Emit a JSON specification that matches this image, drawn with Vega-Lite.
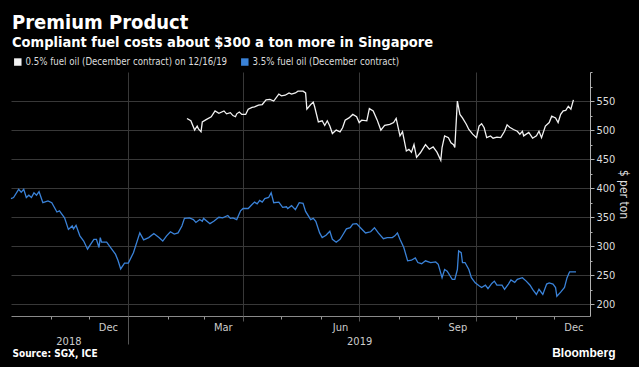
{
  "$schema": "https://vega.github.io/schema/vega-lite/v6.json",
  "width": 579,
  "height": 244,
  "autosize": {"type": "none"},
  "padding": {"left": 11, "top": 72, "right": 49, "bottom": 51},
  "background": "#000000",
  "title": {
    "text": "Premium Product",
    "subtitle": "Compliant fuel costs about $300 a ton more in Singapore",
    "anchor": "start",
    "frame": "group",
    "offset": 8,
    "dx": 1,
    "color": "#ffffff",
    "subtitleColor": "#ffffff",
    "font": "'DejaVu Sans Condensed', 'DejaVu Sans'",
    "subtitleFont": "'DejaVu Sans Condensed', 'DejaVu Sans'",
    "fontSize": 20,
    "subtitleFontSize": 14.5,
    "fontWeight": "bold",
    "subtitleFontWeight": "bold",
    "subtitlePadding": 3
  },
  "data": {"values": [
    {"d":"2018-10-01","s":"3.5%","p":382},{"d":"2018-10-03","s":"3.5%","p":384},{"d":"2018-10-07","s":"3.5%","p":398},{"d":"2018-10-09","s":"3.5%","p":393},{"d":"2018-10-11","s":"3.5%","p":398},{"d":"2018-10-13","s":"3.5%","p":384},{"d":"2018-10-15","s":"3.5%","p":388},{"d":"2018-10-17","s":"3.5%","p":384},{"d":"2018-10-19","s":"3.5%","p":392},{"d":"2018-10-21","s":"3.5%","p":388},{"d":"2018-10-23","s":"3.5%","p":394},{"d":"2018-10-26","s":"3.5%","p":375},{"d":"2018-10-30","s":"3.5%","p":378},{"d":"2018-11-02","s":"3.5%","p":375},{"d":"2018-11-06","s":"3.5%","p":359},{"d":"2018-11-08","s":"3.5%","p":361},{"d":"2018-11-10","s":"3.5%","p":355},{"d":"2018-11-12","s":"3.5%","p":349},{"d":"2018-11-15","s":"3.5%","p":329},{"d":"2018-11-18","s":"3.5%","p":335},{"d":"2018-11-19","s":"3.5%","p":330},{"d":"2018-11-21","s":"3.5%","p":336},{"d":"2018-11-24","s":"3.5%","p":318},{"d":"2018-11-27","s":"3.5%","p":309},{"d":"2018-11-30","s":"3.5%","p":295},{"d":"2018-12-02","s":"3.5%","p":302},{"d":"2018-12-05","s":"3.5%","p":312},{"d":"2018-12-07","s":"3.5%","p":312},{"d":"2018-12-09","s":"3.5%","p":298},{"d":"2018-12-10","s":"3.5%","p":315},{"d":"2018-12-11","s":"3.5%","p":307},{"d":"2018-12-15","s":"3.5%","p":307},{"d":"2018-12-19","s":"3.5%","p":295},{"d":"2018-12-22","s":"3.5%","p":286},{"d":"2018-12-24","s":"3.5%","p":275},{"d":"2018-12-26","s":"3.5%","p":261},{"d":"2018-12-29","s":"3.5%","p":271},{"d":"2019-01-01","s":"3.5%","p":271},{"d":"2019-01-05","s":"3.5%","p":289},{"d":"2019-01-10","s":"3.5%","p":323},{"d":"2019-01-13","s":"3.5%","p":311},{"d":"2019-01-17","s":"3.5%","p":315},{"d":"2019-01-21","s":"3.5%","p":322},{"d":"2019-01-25","s":"3.5%","p":315},{"d":"2019-01-28","s":"3.5%","p":309},{"d":"2019-01-31","s":"3.5%","p":318},{"d":"2019-02-03","s":"3.5%","p":325},{"d":"2019-02-06","s":"3.5%","p":321},{"d":"2019-02-09","s":"3.5%","p":323},{"d":"2019-02-12","s":"3.5%","p":335},{"d":"2019-02-14","s":"3.5%","p":348},{"d":"2019-02-18","s":"3.5%","p":349},{"d":"2019-02-21","s":"3.5%","p":346},{"d":"2019-02-23","s":"3.5%","p":341},{"d":"2019-02-26","s":"3.5%","p":346},{"d":"2019-02-28","s":"3.5%","p":343},{"d":"2019-03-01","s":"3.5%","p":348},{"d":"2019-03-06","s":"3.5%","p":339},{"d":"2019-03-09","s":"3.5%","p":343},{"d":"2019-03-13","s":"3.5%","p":350},{"d":"2019-03-16","s":"3.5%","p":349},{"d":"2019-03-20","s":"3.5%","p":353},{"d":"2019-03-22","s":"3.5%","p":348},{"d":"2019-03-24","s":"3.5%","p":349},{"d":"2019-03-27","s":"3.5%","p":346},{"d":"2019-03-30","s":"3.5%","p":361},{"d":"2019-04-01","s":"3.5%","p":365},{"d":"2019-04-05","s":"3.5%","p":365},{"d":"2019-04-08","s":"3.5%","p":372},{"d":"2019-04-10","s":"3.5%","p":376},{"d":"2019-04-12","s":"3.5%","p":373},{"d":"2019-04-14","s":"3.5%","p":379},{"d":"2019-04-16","s":"3.5%","p":376},{"d":"2019-04-18","s":"3.5%","p":382},{"d":"2019-04-21","s":"3.5%","p":384},{"d":"2019-04-23","s":"3.5%","p":392},{"d":"2019-04-25","s":"3.5%","p":375},{"d":"2019-04-29","s":"3.5%","p":376},{"d":"2019-05-02","s":"3.5%","p":367},{"d":"2019-05-05","s":"3.5%","p":368},{"d":"2019-05-06","s":"3.5%","p":365},{"d":"2019-05-09","s":"3.5%","p":370},{"d":"2019-05-12","s":"3.5%","p":363},{"d":"2019-05-15","s":"3.5%","p":375},{"d":"2019-05-18","s":"3.5%","p":374},{"d":"2019-05-20","s":"3.5%","p":360},{"d":"2019-05-24","s":"3.5%","p":346},{"d":"2019-05-26","s":"3.5%","p":348},{"d":"2019-05-28","s":"3.5%","p":343},{"d":"2019-05-31","s":"3.5%","p":323},{"d":"2019-06-02","s":"3.5%","p":315},{"d":"2019-06-05","s":"3.5%","p":319},{"d":"2019-06-08","s":"3.5%","p":326},{"d":"2019-06-10","s":"3.5%","p":312},{"d":"2019-06-13","s":"3.5%","p":307},{"d":"2019-06-16","s":"3.5%","p":312},{"d":"2019-06-18","s":"3.5%","p":319},{"d":"2019-06-21","s":"3.5%","p":330},{"d":"2019-06-24","s":"3.5%","p":332},{"d":"2019-06-26","s":"3.5%","p":338},{"d":"2019-06-29","s":"3.5%","p":339},{"d":"2019-07-02","s":"3.5%","p":332},{"d":"2019-07-06","s":"3.5%","p":323},{"d":"2019-07-10","s":"3.5%","p":325},{"d":"2019-07-13","s":"3.5%","p":332},{"d":"2019-07-16","s":"3.5%","p":323},{"d":"2019-07-20","s":"3.5%","p":313},{"d":"2019-07-23","s":"3.5%","p":315},{"d":"2019-07-27","s":"3.5%","p":315},{"d":"2019-07-29","s":"3.5%","p":318},{"d":"2019-07-31","s":"3.5%","p":323},{"d":"2019-08-02","s":"3.5%","p":312},{"d":"2019-08-05","s":"3.5%","p":298},{"d":"2019-08-08","s":"3.5%","p":275},{"d":"2019-08-11","s":"3.5%","p":276},{"d":"2019-08-14","s":"3.5%","p":280},{"d":"2019-08-16","s":"3.5%","p":272},{"d":"2019-08-19","s":"3.5%","p":270},{"d":"2019-08-22","s":"3.5%","p":275},{"d":"2019-08-26","s":"3.5%","p":272},{"d":"2019-08-30","s":"3.5%","p":273},{"d":"2019-09-01","s":"3.5%","p":269},{"d":"2019-09-04","s":"3.5%","p":246},{"d":"2019-09-06","s":"3.5%","p":260},{"d":"2019-09-08","s":"3.5%","p":257},{"d":"2019-09-12","s":"3.5%","p":243},{"d":"2019-09-14","s":"3.5%","p":243},{"d":"2019-09-16","s":"3.5%","p":260},{"d":"2019-09-17","s":"3.5%","p":292},{"d":"2019-09-19","s":"3.5%","p":289},{"d":"2019-09-20","s":"3.5%","p":272},{"d":"2019-09-22","s":"3.5%","p":272},{"d":"2019-09-25","s":"3.5%","p":260},{"d":"2019-09-27","s":"3.5%","p":246},{"d":"2019-09-30","s":"3.5%","p":237},{"d":"2019-10-03","s":"3.5%","p":232},{"d":"2019-10-05","s":"3.5%","p":229},{"d":"2019-10-08","s":"3.5%","p":233},{"d":"2019-10-10","s":"3.5%","p":227},{"d":"2019-10-13","s":"3.5%","p":236},{"d":"2019-10-15","s":"3.5%","p":240},{"d":"2019-10-17","s":"3.5%","p":233},{"d":"2019-10-21","s":"3.5%","p":233},{"d":"2019-10-23","s":"3.5%","p":226},{"d":"2019-10-26","s":"3.5%","p":235},{"d":"2019-10-28","s":"3.5%","p":242},{"d":"2019-10-31","s":"3.5%","p":238},{"d":"2019-11-02","s":"3.5%","p":243},{"d":"2019-11-06","s":"3.5%","p":246},{"d":"2019-11-09","s":"3.5%","p":240},{"d":"2019-11-12","s":"3.5%","p":233},{"d":"2019-11-14","s":"3.5%","p":226},{"d":"2019-11-17","s":"3.5%","p":217},{"d":"2019-11-19","s":"3.5%","p":226},{"d":"2019-11-22","s":"3.5%","p":217},{"d":"2019-11-25","s":"3.5%","p":235},{"d":"2019-11-27","s":"3.5%","p":237},{"d":"2019-11-30","s":"3.5%","p":235},{"d":"2019-12-02","s":"3.5%","p":229},{"d":"2019-12-03","s":"3.5%","p":214},{"d":"2019-12-06","s":"3.5%","p":221},{"d":"2019-12-09","s":"3.5%","p":229},{"d":"2019-12-11","s":"3.5%","p":246},{"d":"2019-12-13","s":"3.5%","p":256},{"d":"2019-12-18","s":"3.5%","p":256},
    {"d":"2019-02-16","s":"0.5%","p":520},{"d":"2019-02-19","s":"0.5%","p":516},{"d":"2019-02-22","s":"0.5%","p":500},{"d":"2019-02-24","s":"0.5%","p":507},{"d":"2019-02-25","s":"0.5%","p":502},{"d":"2019-02-27","s":"0.5%","p":497},{"d":"2019-02-28","s":"0.5%","p":514},{"d":"2019-03-03","s":"0.5%","p":518},{"d":"2019-03-07","s":"0.5%","p":523},{"d":"2019-03-10","s":"0.5%","p":533},{"d":"2019-03-13","s":"0.5%","p":529},{"d":"2019-03-17","s":"0.5%","p":533},{"d":"2019-03-19","s":"0.5%","p":528},{"d":"2019-03-22","s":"0.5%","p":530},{"d":"2019-03-24","s":"0.5%","p":525},{"d":"2019-03-26","s":"0.5%","p":523},{"d":"2019-03-27","s":"0.5%","p":528},{"d":"2019-03-29","s":"0.5%","p":531},{"d":"2019-03-31","s":"0.5%","p":527},{"d":"2019-04-03","s":"0.5%","p":527},{"d":"2019-04-05","s":"0.5%","p":536},{"d":"2019-04-08","s":"0.5%","p":539},{"d":"2019-04-10","s":"0.5%","p":540},{"d":"2019-04-13","s":"0.5%","p":543},{"d":"2019-04-16","s":"0.5%","p":544},{"d":"2019-04-19","s":"0.5%","p":552},{"d":"2019-04-22","s":"0.5%","p":553},{"d":"2019-04-25","s":"0.5%","p":550},{"d":"2019-04-29","s":"0.5%","p":562},{"d":"2019-05-01","s":"0.5%","p":559},{"d":"2019-05-04","s":"0.5%","p":560},{"d":"2019-05-07","s":"0.5%","p":564},{"d":"2019-05-09","s":"0.5%","p":562},{"d":"2019-05-12","s":"0.5%","p":564},{"d":"2019-05-14","s":"0.5%","p":567},{"d":"2019-05-18","s":"0.5%","p":567},{"d":"2019-05-20","s":"0.5%","p":564},{"d":"2019-05-21","s":"0.5%","p":536},{"d":"2019-05-24","s":"0.5%","p":544},{"d":"2019-05-26","s":"0.5%","p":548},{"d":"2019-05-27","s":"0.5%","p":541},{"d":"2019-05-30","s":"0.5%","p":514},{"d":"2019-06-02","s":"0.5%","p":516},{"d":"2019-06-04","s":"0.5%","p":508},{"d":"2019-06-06","s":"0.5%","p":516},{"d":"2019-06-08","s":"0.5%","p":507},{"d":"2019-06-10","s":"0.5%","p":494},{"d":"2019-06-13","s":"0.5%","p":500},{"d":"2019-06-16","s":"0.5%","p":497},{"d":"2019-06-18","s":"0.5%","p":504},{"d":"2019-06-20","s":"0.5%","p":517},{"d":"2019-06-23","s":"0.5%","p":521},{"d":"2019-06-26","s":"0.5%","p":527},{"d":"2019-06-29","s":"0.5%","p":523},{"d":"2019-07-01","s":"0.5%","p":513},{"d":"2019-07-03","s":"0.5%","p":517},{"d":"2019-07-07","s":"0.5%","p":516},{"d":"2019-07-09","s":"0.5%","p":537},{"d":"2019-07-12","s":"0.5%","p":533},{"d":"2019-07-15","s":"0.5%","p":518},{"d":"2019-07-18","s":"0.5%","p":500},{"d":"2019-07-21","s":"0.5%","p":508},{"d":"2019-07-25","s":"0.5%","p":510},{"d":"2019-07-28","s":"0.5%","p":513},{"d":"2019-07-30","s":"0.5%","p":520},{"d":"2019-08-02","s":"0.5%","p":490},{"d":"2019-08-04","s":"0.5%","p":497},{"d":"2019-08-07","s":"0.5%","p":464},{"d":"2019-08-09","s":"0.5%","p":467},{"d":"2019-08-11","s":"0.5%","p":462},{"d":"2019-08-13","s":"0.5%","p":475},{"d":"2019-08-15","s":"0.5%","p":453},{"d":"2019-08-18","s":"0.5%","p":461},{"d":"2019-08-22","s":"0.5%","p":475},{"d":"2019-08-25","s":"0.5%","p":467},{"d":"2019-08-28","s":"0.5%","p":471},{"d":"2019-08-31","s":"0.5%","p":462},{"d":"2019-09-03","s":"0.5%","p":448},{"d":"2019-09-04","s":"0.5%","p":470},{"d":"2019-09-06","s":"0.5%","p":490},{"d":"2019-09-09","s":"0.5%","p":487},{"d":"2019-09-11","s":"0.5%","p":478},{"d":"2019-09-13","s":"0.5%","p":475},{"d":"2019-09-14","s":"0.5%","p":470},{"d":"2019-09-16","s":"0.5%","p":550},{"d":"2019-09-18","s":"0.5%","p":527},{"d":"2019-09-20","s":"0.5%","p":521},{"d":"2019-09-23","s":"0.5%","p":510},{"d":"2019-09-25","s":"0.5%","p":501},{"d":"2019-09-28","s":"0.5%","p":493},{"d":"2019-10-01","s":"0.5%","p":487},{"d":"2019-10-03","s":"0.5%","p":507},{"d":"2019-10-05","s":"0.5%","p":511},{"d":"2019-10-07","s":"0.5%","p":504},{"d":"2019-10-09","s":"0.5%","p":487},{"d":"2019-10-12","s":"0.5%","p":490},{"d":"2019-10-14","s":"0.5%","p":486},{"d":"2019-10-17","s":"0.5%","p":488},{"d":"2019-10-20","s":"0.5%","p":487},{"d":"2019-10-23","s":"0.5%","p":498},{"d":"2019-10-25","s":"0.5%","p":509},{"d":"2019-10-27","s":"0.5%","p":505},{"d":"2019-10-30","s":"0.5%","p":501},{"d":"2019-11-02","s":"0.5%","p":498},{"d":"2019-11-04","s":"0.5%","p":493},{"d":"2019-11-06","s":"0.5%","p":498},{"d":"2019-11-07","s":"0.5%","p":490},{"d":"2019-11-11","s":"0.5%","p":496},{"d":"2019-11-14","s":"0.5%","p":486},{"d":"2019-11-17","s":"0.5%","p":490},{"d":"2019-11-19","s":"0.5%","p":498},{"d":"2019-11-21","s":"0.5%","p":487},{"d":"2019-11-24","s":"0.5%","p":507},{"d":"2019-11-27","s":"0.5%","p":513},{"d":"2019-11-29","s":"0.5%","p":524},{"d":"2019-12-02","s":"0.5%","p":521},{"d":"2019-12-04","s":"0.5%","p":513},{"d":"2019-12-06","s":"0.5%","p":527},{"d":"2019-12-08","s":"0.5%","p":533},{"d":"2019-12-10","s":"0.5%","p":534},{"d":"2019-12-12","s":"0.5%","p":541},{"d":"2019-12-14","s":"0.5%","p":536},{"d":"2019-12-16","s":"0.5%","p":552}
  ]},
  "layer": [
    {
      "mark": {"type": "line", "strokeWidth": 1.3, "interpolate": "linear"},
      "encoding": {
        "x": {"field": "d", "type": "temporal",
          "scale": {"type": "utc", "domain": [{"year": 2018, "month": 10, "date": 1, "utc": true}, {"year": 2019, "month": 12, "date": 29, "utc": true}]},
          "axis": {"orient": "bottom", "values": [{"year":2018,"month":11,"date":1,"utc":true},{"year":2018,"month":12,"date":1,"utc":true},{"year":2019,"month":2,"date":1,"utc":true},{"year":2019,"month":3,"date":1,"utc":true},{"year":2019,"month":5,"date":1,"utc":true},{"year":2019,"month":6,"date":1,"utc":true},{"year":2019,"month":8,"date":1,"utc":true},{"year":2019,"month":9,"date":1,"utc":true},{"year":2019,"month":11,"date":1,"utc":true},{"year":2019,"month":12,"date":1,"utc":true}],
            "labels": false, "grid": false, "ticks": true, "tickSize": 3, "tickColor": "#9a9a9a", "domain": true, "domainColor": "#8a8a8a", "title": null}
        },
        "y": {"field": "p", "type": "quantitative",
          "scale": {"domain": [180, 600], "nice": false, "zero": false},
          "axis": {"orient": "right", "values": [200, 250, 300, 350, 400, 450, 500, 550],
            "grid": true, "gridColor": "#383838", "gridWidth": 1,
            "domain": true, "domainColor": "#b0b0b0", "ticks": true, "tickSize": 4, "tickColor": "#b0b0b0",
            "labelColor": "#dddddd", "labelFontSize": 11, "labelPadding": 2, "labelFont": "'DejaVu Sans Condensed', 'DejaVu Sans'",
            "title": "$ per ton", "titleAngle": 90, "titleColor": "#dddddd", "titleFontSize": 12, "titleFontWeight": "normal",
            "titleFont": "'DejaVu Sans Condensed', 'DejaVu Sans'", "titlePadding": 2}
        },
        "color": {"field": "s", "type": "nominal",
          "scale": {"domain": ["0.5%", "3.5%"], "range": ["#f2f2f2", "#3a82d8"]},
          "legend": {"orient": "none", "legendX": 2, "legendY": -15, "direction": "horizontal", "title": null,
            "symbolType": "square", "symbolSize": 12, "symbolStrokeWidth": 4,
            "labelColor": "#dddddd", "labelFontSize": 9.6, "labelFont": "'DejaVu Sans Condensed', 'DejaVu Sans'", "labelLimit": 400,
            "columnPadding": 7, "symbolOffset": 0, "labelOffset": 3,
            "labelExpr": "datum.label == '0.5%' ? '0.5% fuel oil (December contract) on 12/16/19' : '3.5% fuel oil (December contract)'"}
        }
      }
    },
    {
      "mark": {"type": "point", "opacity": 0},
      "encoding": {
        "x": {"field": "d", "type": "temporal",
          "axis": {"orient": "bottom", "values": [{"year":2019,"month":1,"date":1,"utc":true},{"year":2019,"month":4,"date":1,"utc":true},{"year":2019,"month":7,"date":1,"utc":true},{"year":2019,"month":10,"date":1,"utc":true}],
            "labels": false, "grid": true, "gridColor": "#383838", "domain": false, "ticks": true, "tickColor": "#555555",
            "tickSize": {"condition": {"test": "utcmonth(datum.value) == 0", "value": 28}, "value": 5}, "title": null}
        },
        "y": {"field": "p", "type": "quantitative",
          "axis": {"orient": "right", "values": [225, 275, 325, 375, 425, 475, 525, 575, 600], "labels": false, "grid": false, "domain": false,
            "ticks": true, "tickSize": 2, "tickColor": "#b0b0b0", "title": null}
        }
      }
    },
    {
      "mark": {"type": "point", "opacity": 0},
      "encoding": {
        "x": {"field": "d", "type": "temporal",
          "axis": {"orient": "bottom", "values": [{"year":2018,"month":12,"date":16,"utc":true},{"year":2019,"month":3,"date":16,"utc":true},{"year":2019,"month":6,"date":16,"utc":true},{"year":2019,"month":9,"date":16,"utc":true},{"year":2019,"month":12,"date":16,"utc":true}],
            "labelExpr": "utcFormat(datum.value, '%b')", "labels": true, "grid": false, "domain": false, "ticks": false,
            "labelColor": "#cccccc", "labelFontSize": 11, "labelPadding": 5, "labelFont": "'DejaVu Sans Condensed', 'DejaVu Sans'",
            "labelOverlap": false, "labelFlush": false,
            "title": "Bloomberg", "titleColor": "#ffffff", "titleFontSize": 12, "titleFontWeight": "bold",
            "titleFont": "'Liberation Sans', Arial", "titleAnchor": "end", "titleAlign": "right", "titleBaseline": "alphabetic",
            "titleX": 604, "titleY": 40}
        },
        "y": {"field": "p", "type": "quantitative", "axis": null}
      }
    },
    {
      "mark": {"type": "point", "opacity": 0},
      "encoding": {
        "x": {"field": "d", "type": "temporal",
          "axis": {"orient": "bottom", "values": [{"year":2018,"month":11,"date":15,"utc":true},{"year":2019,"month":7,"date":1,"utc":true}],
            "labelExpr": "utcFormat(datum.value, '%Y')", "labels": true, "grid": false, "domain": false, "ticks": false,
            "labelColor": "#cccccc", "labelFontSize": 11, "labelPadding": 19, "labelFont": "'DejaVu Sans Condensed', 'DejaVu Sans'",
            "labelOverlap": false, "labelFlush": false,
            "title": "Source: SGX, ICE", "titleColor": "#ffffff", "titleFontSize": 10, "titleFontWeight": "bold",
            "titleFont": "'DejaVu Sans Condensed', 'DejaVu Sans'", "titleAnchor": "start", "titleAlign": "left", "titleBaseline": "alphabetic",
            "titleX": 1, "titleY": 40}
        },
        "y": {"field": "p", "type": "quantitative", "axis": null}
      }
    }
  ],
  "resolve": {"axis": {"x": "independent", "y": "independent"}},
  "config": {"view": {"stroke": null}}
}
